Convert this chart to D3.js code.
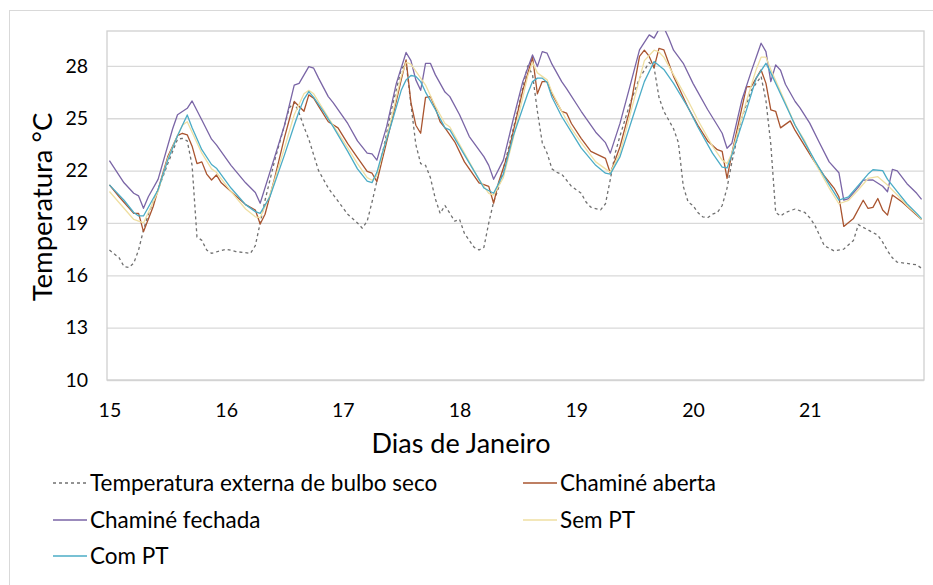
<!DOCTYPE html>
<html>
<head>
<meta charset="utf-8">
<script src="https://cdn.jsdelivr.net/npm/d3@7"></script>
<style>
  html, body { margin: 0; padding: 0; background: #fff; }
  svg { display: block; }
  text { font-family: Calibri, Carlito, Lato, "Open Sans", sans-serif; fill: #000; }
</style>
</head>
<body>
<svg id="chart" width="933" height="585"></svg>
<script>
// Hourly simulation, 15–21 January. Each series: [hour since 15 Jan 00h, °C].
const dayLabels = [15, 16, 17, 18, 19, 20, 21];
const yTicks = [10, 13, 16, 19, 22, 25, 28];

const externaBulboSeco = [
  [0,17.45],[2,17.0],[3,16.5],[4,16.45],[5,16.7],[6,17.45],[7,18.6],[8,19.5],[10,20.9],[12,22.4],
  [14,23.8],[15,23.85],[16,23.7],[17,22.3],[18,18.2],[19,18.0],[20,17.45],[21,17.26],[24,17.5],
  [26,17.36],[29,17.26],[30,17.7],[31,19.0],[32,20.3],[34,22.6],[36,24.6],[37,25.6],[38,25.9],
  [39,25.3],[40,24.5],[41,23.8],[43,22.0],[45,21.0],[49,19.5],[51,19.0],[52,18.7],[53,19.1],
  [54,20.2],[55,21.4],[56,22.8],[58,25.5],[60,27.8],[61,28.2],[62,25.8],[63,23.5],[64,22.4],
  [65,22.3],[66,21.6],[67,20.4],[68,19.55],[69,20.0],[70,19.55],[71,19.1],[72,19.2],[73,18.4],
  [74,18.0],[75,17.6],[76,17.45],[77,17.6],[78,19.0],[79,20.2],[80,21.0],[82,23.2],[84,25.5],
  [86,28.0],[87,27.5],[88,25.4],[89,23.6],[90,23.0],[91,22.1],[92,21.9],[93,21.8],[95,21.1],
  [97,20.7],[98,20.2],[99,19.9],[101,19.75],[102,20.1],[103,21.5],[104,23.0],[105,24.0],
  [107,25.8],[109,27.3],[111,28.2],[112,27.9],[113,26.2],[114,25.4],[115,24.9],[116,24.4],
  [117,23.6],[118,21.1],[119,20.2],[120,20.0],[121,19.6],[122,19.35],[123,19.3],[124,19.5],
  [125,19.6],[126,20.0],[127,21.0],[128,22.5],[130,25.0],[132,26.6],[134,27.4],[135,26.0],
  [136,23.5],[137,19.6],[138,19.4],[139,19.6],[141,19.8],[143,19.6],[144,19.3],[145,18.9],
  [146,18.3],[147,17.7],[149,17.4],[151,17.5],[153,18.0],[154,18.9],[156,18.6],[158,18.3],
  [159,17.9],[160,17.4],[161,17.0],[162,16.75],[164,16.68],[166,16.6],[167,16.4]
];

const chamineAberta = [
  [0,21.18],[2,20.5],[5,19.55],[6,19.55],[7,18.5],[9,19.94],[10,20.9],[12,22.8],[14,24.0],
  [15,24.14],[16,24.05],[17,23.4],[18,22.4],[19,22.5],[20,21.8],[21,21.46],[22,21.75],[23,21.3],
  [25,20.8],[28,20.05],[30,19.74],[31,18.94],[32,19.5],[34,21.6],[36,23.9],[38,25.96],[40,25.4],
  [41,26.34],[42,26.15],[43,25.7],[45,24.8],[47,24.45],[49,23.55],[51,22.75],[53,21.95],
  [54,21.85],[55,21.37],[58,24.8],[60,27.2],[61,28.35],[62,25.9],[63,24.6],[64,24.14],[65,26.2],
  [66,26.24],[67,25.6],[68,24.8],[69,24.45],[71,23.65],[73,22.5],[76,21.3],[78,21.1],[79,20.13],
  [80,21.3],[82,23.0],[85,26.6],[87,28.5],[88,26.4],[89,27.1],[90,27.1],[91,26.4],[93,25.4],
  [94,25.3],[95,24.7],[97,23.85],[99,23.1],[102,22.7],[103,21.85],[105,23.38],[107,25.48],
  [109,28.54],[110,28.9],[111,28.54],[112,27.9],[113,29.0],[114,28.92],[116,27.4],[117,26.8],
  [119,25.6],[121,24.6],[123,23.7],[125,23.2],[126,23.1],[127,21.56],[128,23.0],[131,26.8],
  [132,26.82],[133,27.3],[134,27.77],[135,27.0],[136,25.48],[137,25.4],[138,24.45],[140,24.85],
  [141,24.3],[143,23.4],[145,22.5],[147,21.7],[149,21.0],[150,20.5],[151,18.8],[153,19.26],
  [155,20.3],[156,19.83],[157,19.89],[158,20.4],[159,19.74],[160,19.45],[161,20.6],[163,20.2],
  [165,19.7],[167,19.2]
];

const chamineFechada = [
  [0,22.57],[3,21.3],[5,20.7],[6,20.55],[7,19.84],[8,20.5],[10,21.5],[13,24.4],[14,25.2],
  [16,25.57],[17,25.99],[19,24.9],[21,23.8],[22,23.47],[25,22.3],[28,21.3],[30,20.75],[31,20.13],
  [34,22.8],[36,24.6],[38,26.9],[39,27.0],[41,27.96],[42,27.87],[43,27.3],[45,26.24],[46,25.9],
  [49,24.7],[51,23.7],[53,23.0],[54,22.96],[55,22.6],[57,24.52],[59,27.0],[61,28.77],[62,28.3],
  [63,27.2],[64,26.6],[65,28.15],[66,28.15],[67,27.5],[69,26.5],[70,26.24],[72,25.2],[74,23.95],
  [77,22.8],[78,22.3],[79,21.5],[81,22.6],[83,24.9],[85,27.1],[87,28.63],[88,27.96],[89,28.82],
  [90,28.73],[91,28.1],[93,27.1],[94,26.7],[97,25.4],[100,24.2],[102,23.6],[103,23.0],[105,24.72],
  [107,26.8],[109,28.92],[111,29.78],[112,29.59],[113,30.1],[114,30.2],[115,29.6],[116,28.9],
  [118,28.15],[120,27.0],[123,25.5],[125,24.6],[126,24.14],[127,23.28],[128,23.57],[130,26.0],
  [132,27.7],[133,28.5],[134,29.3],[135,28.82],[136,27.1],[137,28.06],[138,27.75],[139,26.95],
  [141,25.96],[142,25.6],[144,24.72],[146,23.6],[148,22.5],[150,21.88],[151,20.31],[152,20.4],
  [154,21.05],[155,21.45],[157,21.46],[159,21.1],[160,20.79],[161,22.07],[162,21.99],[164,21.25],
  [166,20.7],[167,20.35]
];

const semPT = [
  [0,20.8],[5,19.2],[7,19.0],[8,19.6],[10,20.8],[12,22.7],[14,24.0],[15,24.6],[16,24.8],[17,24.2],
  [19,23.0],[21,22.1],[22,21.9],[25,20.8],[28,19.8],[30,19.35],[31,19.3],[33,20.6],[36,23.3],
  [38,25.2],[40,26.4],[41,26.6],[42,26.4],[44,25.5],[46,24.6],[49,23.3],[51,22.4],[53,21.6],
  [54,21.45],[55,21.7],[58,25.0],[60,27.4],[61,28.2],[62,28.1],[63,27.7],[64,27.3],[65,26.9],
  [67,25.7],[69,24.7],[70,24.5],[73,23.0],[76,21.5],[78,20.7],[79,20.6],[81,21.6],[83,23.8],
  [86,27.4],[87,28.2],[88,27.6],[89,27.4],[90,27.2],[91,26.5],[93,25.4],[95,24.4],[97,23.6],
  [100,22.5],[102,22.1],[103,21.9],[105,23.0],[108,26.2],[110,28.3],[112,28.9],[113,28.8],
  [114,28.5],[116,27.5],[119,26.0],[121,24.9],[124,23.4],[126,22.6],[127,22.4],[128,23.0],
  [131,26.0],[133,27.8],[134,28.5],[135,28.5],[136,27.8],[139,25.9],[141,24.6],[143,23.7],
  [145,22.5],[148,21.0],[150,20.1],[152,20.3],[154,20.9],[156,21.55],[158,21.65],[160,21.17],
  [162,20.6],[164,20.0],[166,19.5],[167,19.2]
];

const comPT = [
  [0,21.18],[3,20.3],[5,19.6],[6,19.4],[7,19.4],[8,19.9],[10,20.9],[12,22.6],[14,24.0],[16,25.19],
  [17,24.45],[19,23.2],[21,22.35],[22,22.14],[25,21.0],[28,20.05],[30,19.65],[31,19.55],[33,20.5],
  [36,22.9],[38,24.6],[39,25.4],[40,26.1],[41,26.53],[42,26.2],[44,25.4],[46,24.52],[49,23.1],
  [51,22.1],[53,21.4],[54,21.31],[55,21.9],[56,22.9],[58,24.7],[60,26.6],[61,27.2],[62,27.45],
  [63,27.4],[64,27.1],[65,26.5],[67,25.5],[69,24.45],[70,24.33],[73,22.9],[76,21.5],[77,21.0],
  [79,20.7],[81,21.8],[83,23.95],[86,26.4],[87,27.1],[88,27.3],[89,27.3],[90,27.05],[91,26.2],
  [93,25.1],[95,24.2],[97,23.3],[100,22.3],[102,21.85],[103,21.8],[105,22.8],[108,25.4],
  [110,27.1],[112,28.25],[114,27.8],[116,27.0],[119,25.6],[121,24.5],[124,23.0],[126,22.2],
  [127,22.15],[128,22.9],[131,25.48],[133,27.3],[135,28.15],[136,27.6],[139,25.8],[141,24.6],
  [143,23.6],[145,22.6],[148,21.2],[150,20.31],[152,20.5],[154,21.15],[156,21.8],[157,22.05],
  [159,22.0],[160,21.5],[162,20.8],[164,20.1],[166,19.55],[167,19.25]
];

const series = [
  { name: "Temperatura externa de bulbo seco", data: externaBulboSeco, color: "#707070", dash: "3,3" },
  { name: "Chaminé aberta", data: chamineAberta, color: "#a9542f" },
  { name: "Chaminé fechada", data: chamineFechada, color: "#7a65a6" },
  { name: "Sem PT", data: semPT, color: "#efdfa2" },
  { name: "Com PT", data: comPT, color: "#4bacc6" }
];

const svg = d3.select("#chart");
const plot = { left: 107, right: 924, top: 31, bottom: 380 };
const hours = 168;

const x = d3.scaleLinear().domain([0, hours]).range([plot.left, plot.right]);
const y = d3.scaleLinear().domain([10, 30]).range([plot.bottom, plot.top]);

// Chart frame
svg.append("rect")
  .attr("x", 9.5).attr("y", 10.5).attr("width", 940).attr("height", 600)
  .attr("fill", "none").attr("stroke", "#d9d9d9");

// Horizontal gridlines
svg.append("g")
  .attr("transform", `translate(${plot.left},0)`)
  .call(d3.axisLeft(y).tickValues(yTicks).tickSize(-(plot.right - plot.left)).tickFormat(""))
  .call(g => g.select(".domain").remove())
  .call(g => g.selectAll("line").attr("stroke", "#d9d9d9").attr("stroke-width", 1.3));

// Plot-area outline
svg.append("rect")
  .attr("x", plot.left).attr("y", plot.top)
  .attr("width", plot.right - plot.left).attr("height", plot.bottom - plot.top)
  .attr("fill", "none").attr("stroke", "#d0d0d0").attr("stroke-width", 1.3);

// Y tick labels
svg.append("g")
  .attr("transform", `translate(${plot.left},0)`)
  .call(d3.axisLeft(y).tickValues(yTicks).tickSize(0).tickPadding(19))
  .call(g => g.select(".domain").remove())
  .call(g => g.selectAll("text").attr("font-size", 19.5).style("font-family", "Lato, sans-serif"));

// X tick labels: one per day, on the first hour of the day
svg.append("g")
  .attr("transform", `translate(0,${plot.bottom})`)
  .call(d3.axisBottom(x)
    .tickValues(dayLabels.map((d, i) => i * 24 + 0.5))
    .tickFormat((d, i) => dayLabels[i])
    .tickSize(0).tickPadding(23))
  .call(g => g.select(".domain").remove())
  .call(g => g.selectAll("text").attr("font-size", 19.5).style("font-family", "Lato, sans-serif"));

// Axis titles
svg.append("text")
  .attr("transform", "translate(52,207) rotate(-90)")
  .attr("text-anchor", "middle")
  .attr("font-size", 27.5)
  .style("font-family", "Lato, sans-serif")
  .text("Temperatura °C");

svg.append("text")
  .attr("x", 461).attr("y", 453)
  .attr("text-anchor", "middle")
  .attr("font-size", 27)
  .style("font-family", "Lato, sans-serif")
  .text("Dias de Janeiro");

// Series lines
svg.append("clipPath").attr("id", "plotClip")
  .append("rect")
  .attr("x", plot.left).attr("y", plot.top)
  .attr("width", plot.right - plot.left).attr("height", plot.bottom - plot.top);

const line = d3.line()
  .x(d => x(d[0] + 0.5))
  .y(d => y(d[1]));

svg.append("g").attr("clip-path", "url(#plotClip)")
  .selectAll("path")
  .data(series)
  .join("path")
  .attr("d", s => line(s.data))
  .attr("fill", "none")
  .attr("stroke", s => s.color)
  .attr("stroke-width", 1.3)
  .attr("stroke-linejoin", "round")
  .attr("stroke-dasharray", s => s.dash || null);

// Legend, two columns
const legendCols = [53, 523];
const legendRows = [483, 520, 556];
const legend = svg.append("g")
  .selectAll("g")
  .data(series)
  .join("g")
  .attr("transform", (s, i) => `translate(${legendCols[i % 2]},${legendRows[Math.floor(i / 2)]})`);

legend.append("line")
  .attr("x1", 0).attr("x2", 34).attr("y1", 0).attr("y2", 0)
  .attr("stroke", s => s.color)
  .attr("stroke-width", 1.3)
  .attr("stroke-dasharray", s => s.dash || null);

legend.append("text")
  .attr("x", 37).attr("y", 0)
  .attr("dy", "0.35em")
  .attr("font-size", 22.5)
  .style("font-family", "Lato, sans-serif")
  .text(s => s.name);
</script>
</body>
</html>
